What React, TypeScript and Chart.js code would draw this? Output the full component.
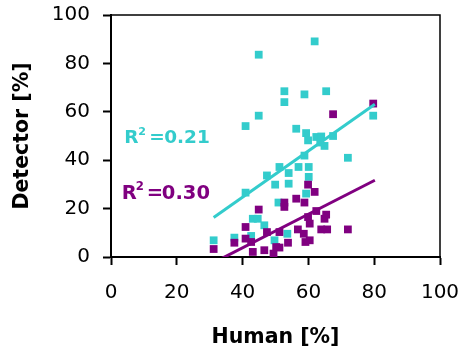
import React, { useEffect, useRef } from "react";
import { Chart, registerables } from "chart.js";

Chart.register(...registerables);

const xTicks = [0, 20, 40, 60, 80, 100];
const yTicks = [0, 20, 40, 60, 80, 100];

const cyanX = [61.9, 44.9, 52.7, 58.8, 65.4, 52.7, 44.9, 79.7, 40.9, 56.3, 59.3, 59.9, 62.4, 63.9, 67.5, 64.9, 63.6, 58.8, 72.0, 51.2, 57.0, 60.1, 47.4, 54.0, 60.1, 49.9, 54.0, 40.9, 59.3, 50.9, 43.1, 44.6, 46.6, 42.6, 37.5, 31.2, 49.7, 53.6];
const cyanY = [89.1, 83.6, 68.5, 67.2, 68.5, 64.0, 58.4, 58.4, 54.1, 53.0, 51.2, 48.2, 49.6, 49.8, 50.0, 45.9, 47.3, 41.9, 41.0, 37.2, 37.2, 37.2, 33.7, 34.7, 33.1, 29.9, 30.3, 26.6, 26.2, 22.5, 15.8, 15.8, 13.1, 8.7, 8.0, 6.9, 6.9, 9.6];

const purpleX = [79.7, 67.5, 59.9, 61.9, 56.3, 52.7, 52.7, 58.8, 44.9, 59.9, 62.4, 65.4, 64.9, 60.4, 63.9, 65.7, 72.0, 56.8, 58.6, 40.9, 47.4, 51.2, 40.9, 37.5, 42.6, 53.8, 59.1, 60.4, 31.2, 43.1, 46.6, 50.2, 51.2, 49.4];
const purpleY = [63.4, 59.0, 29.9, 26.9, 24.1, 22.5, 20.7, 22.5, 19.6, 16.5, 19.0, 17.5, 15.8, 13.8, 11.4, 11.4, 11.4, 11.4, 9.6, 12.4, 10.3, 10.3, 7.6, 5.9, 6.2, 5.9, 6.2, 6.9, 3.3, 2.1, 2.8, 4.1, 3.9, 1.4];

const cyanTrendX = [31.2, 80.2];
const cyanTrendY = [16.3, 63.1];
const purpleTrendX = [31.2, 80.2];
const purpleTrendY = [-2.3, 31.7];

const rLabelValues = ["0.21", "0.30"];
const rLabelAnchors = [
  [4.0, 47.0],
  [3.3, 24.0],
];

const CYAN = "#33CCCC";
const PURPLE = "#800080";
const FONT = "DejaVu Sans";

const toPts = (xs: number[], ys: number[]) => xs.map((x, i) => ({ x, y: ys[i] }));

const zeroPad = (s: any) => {
  s.paddingTop = 0;
  s.paddingBottom = 0;
  s.paddingLeft = 0;
  s.paddingRight = 0;
};

const framePlugin = {
  id: "frame",
  afterDraw(chart: any) {
    const { ctx, chartArea } = chart;
    ctx.save();
    ctx.strokeStyle = "#000";
    ctx.lineWidth = 1.5;
    ctx.beginPath();
    ctx.moveTo(chartArea.left, chartArea.top);
    ctx.lineTo(chartArea.right, chartArea.top);
    ctx.lineTo(chartArea.right, chartArea.bottom);
    ctx.stroke();
    ctx.restore();
  },
};

const rLabelPlugin = {
  id: "rlabels",
  afterDraw(chart: any) {
    const { ctx } = chart;
    const xs = chart.scales.x;
    const ys = chart.scales.y;
    const colors = [CYAN, PURPLE];
    const sizes = [18.5, 19.5];
    ctx.save();
    ctx.textAlign = "left";
    ctx.textBaseline = "alphabetic";
    rLabelValues.forEach((val, i) => {
      const px = xs.getPixelForValue(rLabelAnchors[i][0]);
      const py = ys.getPixelForValue(rLabelAnchors[i][1]);
      const s = sizes[i];
      ctx.fillStyle = colors[i];
      ctx.font = `bold ${s}px "${FONT}"`;
      ctx.fillText("R", px, py);
      ctx.font = `bold ${s * 0.6}px "${FONT}"`;
      ctx.fillText("2", px + 14, py - 8.5);
      ctx.font = `bold ${s}px "${FONT}"`;
      ctx.fillText("=", px + 25, py);
      ctx.fillText(val, px + 40, py);
    });
    ctx.restore();
  },
};

export default function App() {
  const ref = useRef<HTMLCanvasElement | null>(null);

  useEffect(() => {
    if (!ref.current) return;
    const chart = new Chart(ref.current, {
      type: "scatter",
      data: {
        datasets: [
          {
            data: toPts(cyanTrendX, cyanTrendY),
            showLine: true,
            borderColor: CYAN,
            borderWidth: 3,
            pointRadius: 0,
            fill: false,
            clip: 0,
            order: 0,
          } as any,
          {
            data: toPts(purpleTrendX, purpleTrendY),
            showLine: true,
            borderColor: PURPLE,
            borderWidth: 3,
            pointRadius: 0,
            fill: false,
            clip: 0,
            order: 0,
          } as any,
          {
            data: toPts(cyanX, cyanY),
            backgroundColor: CYAN,
            borderWidth: 0,
            pointStyle: "rect",
            pointRadius: 5.5,
            order: 2,
          },
          {
            data: toPts(purpleX, purpleY),
            backgroundColor: PURPLE,
            borderWidth: 0,
            pointStyle: "rect",
            pointRadius: 5.5,
            order: 1,
          },
        ],
      },
      options: {
        animation: false,
        responsive: false,
        events: [],
        layout: { padding: { top: 15, right: 21, left: 0, bottom: 0 } },
        plugins: { legend: { display: false }, tooltip: { enabled: false } },
        scales: {
          x: {
            type: "linear",
            min: 0,
            max: 100,
            afterBuildTicks: (s: any) => {
              s.ticks = xTicks.map((v) => ({ value: v }));
            },
            afterFit: (s: any) => {
              s.height = 97;
              zeroPad(s);
            },
            ticks: {
              font: { family: FONT, size: 20 },
              color: "#000",
              padding: 16,
              maxRotation: 0,
              autoSkip: false,
            },
            grid: {
              display: true,
              drawOnChartArea: false,
              drawTicks: true,
              tickLength: 8,
              tickWidth: 2,
              tickColor: "#000",
            },
            border: { display: true, color: "#000", width: 2 },
            title: {
              display: true,
              text: "Human [%]",
              color: "#000",
              font: { family: FONT, size: 20.5, weight: "bold" },
              padding: { top: 0, bottom: 4 },
            },
          },
          y: {
            type: "linear",
            min: 0,
            max: 100,
            afterBuildTicks: (s: any) => {
              s.ticks = yTicks.map((v) => ({ value: v }));
            },
            afterFit: (s: any) => {
              s.width = 111;
              zeroPad(s);
            },
            ticks: {
              font: { family: FONT, size: 20 },
              color: "#000",
              padding: 13,
              autoSkip: false,
            },
            grid: {
              display: true,
              drawOnChartArea: false,
              drawTicks: true,
              tickLength: 8,
              tickWidth: 2,
              tickColor: "#000",
            },
            border: { display: true, color: "#000", width: 2 },
            title: {
              display: true,
              text: "Detector [%]",
              color: "#000",
              font: { family: FONT, size: 20.5, weight: "bold" },
              padding: { top: 10, bottom: 0 },
            },
          },
        },
      },
      plugins: [framePlugin, rLabelPlugin],
    } as any);
    return () => chart.destroy();
  }, []);

  return (
    <div style={{ position: "fixed", left: 0, top: 0, width: 461, height: 354, background: "#fff" }}>
      <canvas ref={ref} width={461} height={354} style={{ display: "block" }} />
    </div>
  );
}
